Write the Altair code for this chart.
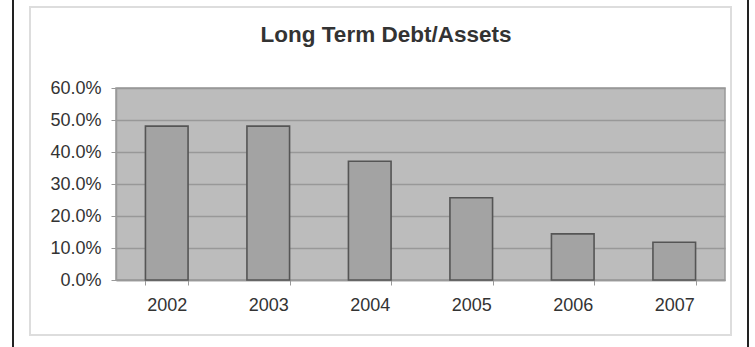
import altair as alt
import pandas as pd

years = ["2002", "2003", "2004", "2005", "2006", "2007"]
ratios = [0.481, 0.481, 0.371, 0.257, 0.144, 0.118]
title_text = ["Long Term Debt/Assets"]

df = pd.DataFrame({"year": years, "ratio": ratios})
tdf = pd.DataFrame({"t": title_text})

bars = alt.Chart(df).mark_bar(
    fill="#a3a3a3", stroke="#555555", strokeWidth=1.6
).encode(
    x=alt.X("year:N", sort=years,
            scale=alt.Scale(paddingInner=0.58, paddingOuter=0.29),
            axis=alt.Axis(title=None, labelAngle=0, tickBand="extent",
                          labelFontSize=18, labelFont="Liberation Sans",
                          labelColor="#333333", labelPadding=11,
                          tickSize=5, tickColor="#999999",
                          domainColor="#999999", domainWidth=1.5,
                          grid=False)),
    y=alt.Y("ratio:Q",
            scale=alt.Scale(domain=[0, 0.6], nice=False),
            axis=alt.Axis(title=None, format=".1%", values=[0, 0.1, 0.2, 0.3, 0.4, 0.5, 0.6],
                          labelFontSize=18, labelFont="Liberation Sans",
                          labelColor="#333333", labelPadding=10,
                          tickSize=5, tickColor="#999999",
                          domainColor="#999999", domainWidth=1.5,
                          gridColor="#989898", gridWidth=1.5)),
)

# decorative outer frame (black side lines and light grey inner frame)
frame_left = alt.Chart(df).mark_rule(color="#222222", strokeWidth=2).encode(
    x=alt.value(-103), y=alt.value(-90), y2=alt.value(260))
frame_right = alt.Chart(df).mark_rule(color="#222222", strokeWidth=2).encode(
    x=alt.value(632), y=alt.value(-90), y2=alt.value(260))
inner = alt.Chart(df).mark_rect(fill=None, stroke="#dddddd", strokeWidth=2).encode(
    x=alt.value(-86), x2=alt.value(615), y=alt.value(-81), y2=alt.value(247))

title = alt.Chart(tdf).mark_text(
    font="Liberation Sans", fontSize=22.5, fontWeight="bold", color="#333333",
    align="center", baseline="alphabetic"
).encode(text="t:N", x=alt.value(270), y=alt.value(-46))

chart = alt.layer(inner, frame_left, frame_right, bars, title).properties(
    width=609, height=192,
    autosize=alt.AutoSizeParams(type="none"),
    padding={"left": 116, "top": 88, "right": 30, "bottom": 67},
    background="white",
).configure_view(
    fill="#bcbcbc", stroke="#999999", strokeWidth=1.5
)

chart.save("out.html", embed_options={"renderer": "svg", "actions": False})
